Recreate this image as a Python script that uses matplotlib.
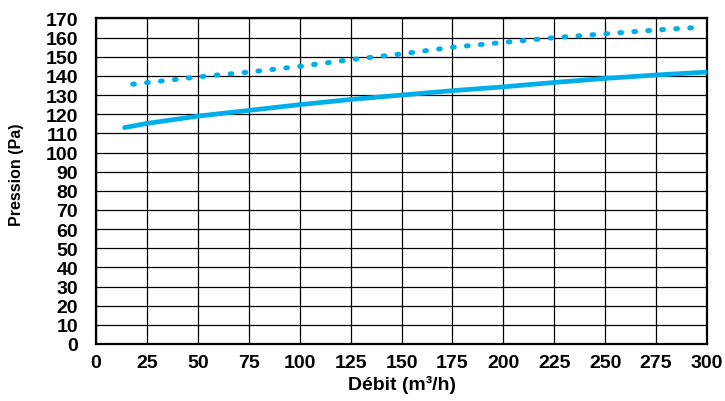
import matplotlib
matplotlib.use("Agg")
import matplotlib.pyplot as plt

# Courbes
debit_continu = [14, 25, 50, 75, 100, 125, 150, 175, 200, 225, 250, 275, 300]
pression_continu = [113, 115.2, 119, 122, 125, 127.7, 130, 132.3, 134.3, 136.6, 138.7, 140.5, 142]

debit_pointille = [18, 25, 50, 75, 100, 125, 150, 175, 200, 225, 250, 275, 298]
pression_pointille = [135.7, 136.5, 139.5, 142, 145, 148.5, 151.5, 155, 157.5, 160, 162, 164, 165.5]

x_ticks = list(range(0, 301, 25))
y_ticks = list(range(0, 171, 10))

bleu = "#00aeea"

plt.rcParams["font.family"] = ["Liberation Sans", "DejaVu Sans"]

fig = plt.figure(figsize=(7.25, 4.02), dpi=100)
ax = fig.add_axes([0.1324, 0.1418, 0.9752 - 0.1324, 0.9515 - 0.1418])

ax.plot(debit_continu, pression_continu, color=bleu, lw=3.4,
        solid_capstyle="round", zorder=3)
ax.plot(debit_pointille, pression_pointille, color=bleu, lw=3.6,
        linestyle=(0, (0.35, 2.45)), dash_capstyle="round", zorder=3)

ax.set_xlim(0, 300)
ax.set_ylim(0, 170)
ax.set_xticks(x_ticks)
ax.set_yticks(y_ticks)
ax.grid(True, color="black", lw=0.9)
ax.set_axisbelow(True)

for s in ax.spines.values():
    s.set_linewidth(1.6)
    s.set_color("black")

ax.tick_params(axis="both", length=0, labelsize=14)
ax.tick_params(axis="x", pad=7)
ax.tick_params(axis="y", pad=13)
for lab in ax.get_xticklabels() + ax.get_yticklabels():
    lab.set_fontweight("bold")

ax.set_xlabel("Débit (m³/h)", fontsize=14, fontweight="bold", labelpad=3)
ax.set_ylabel("Pression (Pa)", fontsize=11.5, fontweight="bold")
ax.yaxis.set_label_coords(-0.118, 0.522)

fig.savefig("out.png", dpi=100)
